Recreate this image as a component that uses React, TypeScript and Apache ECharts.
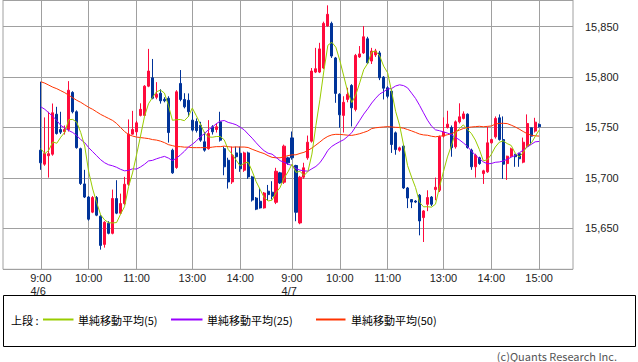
import React, { useEffect, useRef } from "react";
import * as echarts from "echarts";

// 5-minute bars, 4/6 9:00 .. 4/7 15:00 (index 0 = 4/6 9:00)
const opens = [
  15727.5, 15713.6, 15722, 15723.5, 15763.2, 15748, 15746, 15748, 15784.8, 15765.6,
  15729, 15694, 15681, 15666, 15680.5, 15662, 15634, 15655, 15645, 15679.5,
  15665, 15674.5, 15693.7, 15743.4, 15745.7, 15762, 15762, 15791, 15799.3, 15780,
  15784, 15778, 15779, 15727.5, 15710.3, 15793.7, 15777.8, 15777, 15757.3, 15756,
  15752.3, 15735.8, 15729, 15750.7, 15748, 15755.6, 15729, 15717.5, 15696, 15724.8,
  15724.4, 15707.6, 15724.8, 15701, 15680, 15676.8, 15670.2, 15686.8, 15685.8, 15675.8,
  15705, 15695.7, 15719.9,
  15739.7, 15712.3, 15655.3, 15700.7, 15719.9, 15736.4, 15805,
  15805, 15809, 15850.7, 15853.3, 15819, 15783, 15762, 15777.8, 15791.7, 15767.9,
  15820, 15824, 15838, 15815.9, 15822, 15824, 15800, 15789.4, 15786, 15744.7,
  15727.5, 15731.5, 15690, 15678.5, 15677, 15682.8, 15660.6, 15673.8, 15681, 15688.4,
  15687.7, 15741.4, 15750, 15750, 15730.8, 15755.6, 15759, 15763.2, 15727.5, 15711,
  15719.9, 15704.3, 15706, 15734.8, 15740.7, 15759.6, 15738, 15714.2, 15721.5, 15723,
  15724, 15715.6, 15731.5, 15749.7, 15746.4, 15753,
];
const closes = [
  15715, 15724.2, 15724, 15764.6, 15744, 15745.4, 15748, 15787, 15765.6, 15730,
  15694.4, 15681, 15659, 15680.5, 15663, 15633, 15656, 15645, 15679.5, 15665,
  15674.5, 15693.7, 15743.4, 15748, 15754.6, 15768, 15791, 15806, 15779, 15783,
  15776.5, 15776.5, 15745, 15705, 15785.4, 15777.8, 15770.5, 15765.6, 15747.4, 15747,
  15737.4, 15727.5, 15744, 15745.7, 15750.7, 15737.4, 15711, 15696, 15722.5, 15721,
  15709, 15724.8, 15701, 15678, 15669, 15670.2, 15685, 15683.4, 15681.8, 15706.6,
  15695, 15731.5, 15714.9,
  15719.9, 15665.9, 15700.7, 15710, 15735.4, 15806, 15808.3,
  15828, 15853.3, 15862.3, 15820.9, 15783.8, 15762.6, 15775, 15782.8, 15769.5, 15821.5,
  15823, 15840, 15814.2, 15825.8, 15826, 15799.3, 15789, 15781, 15733.1, 15728.1,
  15729.8, 15690, 15680, 15676, 15676, 15657.3, 15667.2, 15680.5, 15673.8, 15690.7,
  15740.7, 15745.5, 15753.3, 15730, 15755.6, 15760.6, 15763.5, 15730.1, 15711, 15722.5,
  15714.2, 15707, 15734.8, 15738, 15759, 15738, 15713.6, 15721.5, 15728.8, 15721,
  15719, 15735.4, 15754, 15741.4, 15755.3, 15750.7,
];
const lows = [
  15708, 15712, 15700.3, 15722, 15743, 15743.5, 15743, 15746, 15764, 15729,
  15693, 15680, 15657.6, 15665, 15662, 15628.8, 15630.8, 15644, 15644, 15664,
  15664, 15673, 15692, 15743, 15742, 15761, 15761, 15790, 15778, 15778,
  15773.7, 15775, 15735, 15704, 15709, 15776, 15769, 15760.6, 15746, 15745,
  15735.8, 15726, 15728, 15743, 15745, 15736, 15702.6, 15689.4, 15694, 15709,
  15706, 15706, 15699, 15676.5, 15668, 15669.5, 15669.5, 15678, 15678.5, 15674,
  15694, 15694, 15713,
  15718, 15657, 15654, 15699, 15718, 15735, 15804,
  15804, 15808, 15850, 15819, 15774.5, 15749.7, 15745, 15775, 15751, 15766,
  15819, 15823, 15813, 15813, 15820, 15797, 15777.8, 15779, 15724.8, 15723,
  15726, 15689, 15670, 15670, 15675, 15643, 15636.4, 15667, 15672, 15677.8,
  15686, 15740, 15749, 15721, 15729, 15754, 15758, 15729, 15708, 15700.3,
  15713, 15694, 15705, 15734, 15739, 15737, 15699, 15698, 15720, 15711,
  15711, 15714.5, 15730, 15733, 15745, 15750,
];
const highs = [
  15795.4, 15760, 15765.6, 15773.8, 15770.5, 15765.6, 15752, 15796, 15786, 15767,
  15730, 15708, 15682, 15682, 15682, 15663, 15657, 15657, 15688.4, 15697.7,
  15684.4, 15701, 15758, 15766.5, 15756.6, 15774, 15792, 15828, 15818, 15795,
  15788, 15780, 15781, 15729, 15787, 15807, 15784, 15783.8, 15765.6, 15759,
  15755.6, 15745.7, 15757.3, 15752.3, 15754, 15765.6, 15731, 15720, 15731, 15731,
  15731, 15726, 15726, 15702, 15681, 15690, 15686, 15693, 15696.7, 15710,
  15706, 15733, 15721,
  15746, 15713, 15702, 15715, 15742, 15809, 15829,
  15834, 15855, 15871.2, 15855, 15820, 15784, 15781, 15789.4, 15793, 15823,
  15830.8, 15850.7, 15840, 15829, 15828, 15826, 15801, 15791, 15788, 15746,
  15731, 15733, 15691, 15679, 15678, 15684, 15668, 15687.7, 15682, 15700.3,
  15742, 15760, 15766.6, 15752, 15757, 15774, 15766, 15764, 15729, 15724,
  15721, 15708, 15750.7, 15739, 15761, 15763, 15761, 15722, 15730, 15724,
  15725, 15740, 15763, 15750, 15759.6, 15754,
];

// moving-average values at the start of the window (they depend on bars before 4/6 9:00),
// read from the picture
const ma5Lead = [15729, 15724, 15727.5, 15735.7];
const ma25Lead = [
  15770.5, 15768, 15764.5, 15761, 15757, 15752, 15749.5, 15747, 15745, 15742,
  15738, 15735, 15730, 15726, 15722, 15718, 15715, 15713, 15712, 15710.5,
  15708.5, 15707, 15707.5, 15709,
];
const ma50Lead = [
  15795.4, 15794, 15792, 15790, 15788.5, 15786.5, 15784.5, 15782, 15779.5, 15777,
  15775, 15772.5, 15770, 15768, 15765.5, 15763, 15761, 15759, 15757, 15754,
  15750, 15746, 15743, 15741.5, 15740.5, 15740, 15739.5, 15739, 15738, 15737.5,
  15736.5, 15735, 15733, 15732, 15731, 15731, 15730.5, 15730.5, 15730, 15730,
  15730, 15730, 15730, 15730.5, 15731, 15731, 15731.5, 15731, 15730.5,
];

const tickBars = [0, 12, 24, 38, 50, 63, 75, 87, 101, 113, 125];
const tickLabels = ["9:00\n4/6\u2002", "10:00", "11:00", "13:00", "14:00", "9:00\n4/7\u2002", "10:00", "11:00", "13:00", "14:00", "15:00"];

const maNames = ["単純移動平均(5)", "単純移動平均(25)", "単純移動平均(50)"];
const maPeriods = [5, 25, 50];
const maColors = ["#99cc00", "#9900ff", "#ff3300"];

const FONT = "'Noto Sans CJK JP', 'Noto Sans', sans-serif";
const AXIS_FONT = "'Liberation Sans', Arial, sans-serif";

function sma(n: number, lead: number[]): number[] {
  return closes.map((_, i) => {
    if (i < n - 1) return lead[i];
    let s = 0;
    for (let k = i - n + 1; k <= i; k++) s += closes[k];
    return +(s / n).toFixed(2);
  });
}

export default function App() {
  const ref = useRef<HTMLDivElement>(null);
  useEffect(() => {
    if (!ref.current) return;
    const chart = echarts.init(ref.current, undefined, { renderer: "svg" });
    const PAD_L = 9;
    const PAD_R = 8;
    const n = closes.length;
    const N = PAD_L + n + PAD_R;
    const cats = Array.from({ length: N }, (_, k) => String(k));
    const pad = (arr: any[]) => [
      ...Array(PAD_L).fill("-"),
      ...arr,
      ...Array(PAD_R).fill("-"),
    ];
    const candle = pad(closes.map((c, i) => [opens[i], c, lows[i], highs[i]]));
    const tickMap = new Map<number, string>();
    tickBars.forEach((b, j) => tickMap.set(b + PAD_L, tickLabels[j]));
    const leads = [ma5Lead, ma25Lead, ma50Lead];
    const maSeries = [2, 1, 0].map((j) => ({
      type: "line",
      name: maNames[j],
      data: pad(sma(maPeriods[j], leads[j])),
      symbol: "none",
      silent: true,
      lineStyle: { color: maColors[j], width: 1 },
      z: 3 + (2 - j),
    }));

    const legendY = 319;
    const legendParts: any[] = [
      {
        type: "rect",
        shape: { x: 3.5, y: 295.5, width: 632, height: 51 },
        style: { fill: "none", stroke: "#000", lineWidth: 1 },
      },
      {
        type: "text",
        x: 11,
        y: legendY + 0.5,
        style: { text: "上段 :", font: `11px ${FONT}`, fill: "#000", verticalAlign: "middle" },
      },
    ];
    const legendPos = [
      [43, 73.5, 78],
      [171, 202.5, 207],
      [316, 345.5, 351],
    ];
    legendPos.forEach((p, j) => {
      legendParts.push({
        type: "rect",
        shape: { x: p[0], y: legendY - 0.5, width: p[1] - p[0], height: 2 },
        style: { fill: maColors[j], stroke: "none" },
        z: 10,
      });
      legendParts.push({
        type: "text",
        x: p[2],
        y: legendY + 0.5,
        style: { text: maNames[j], font: `11px ${FONT}`, fill: "#000", verticalAlign: "middle" },
      });
    });
    legendParts.push({
      type: "text",
      x: 617,
      y: 355.5,
      style: {
        text: "(c)Quants Research Inc.",
        font: `11px ${FONT}`,
        fill: "#555",
        align: "right",
        verticalAlign: "middle",
      },
    });

    chart.setOption({
      animation: false,
      grid: {
        left: 3,
        top: 0,
        width: 570,
        height: 269.3,
        show: true,
        borderColor: "#a0a0a0",
        borderWidth: 1,
        backgroundColor: "transparent",
      },
      xAxis: {
        type: "category",
        data: cats,
        boundaryGap: true,
        axisLine: { show: false },
        axisTick: { show: false },
        axisLabel: {
          interval: (i: number) => tickMap.has(i),
          formatter: (_v: string, i: number) => tickMap.get(i) ?? "",
          fontSize: 11,
          fontFamily: AXIS_FONT,
          color: "#222",
          margin: 1.5,
          lineHeight: 13.5,
        },
        splitLine: {
          show: true,
          interval: (i: number) => tickMap.has(i),
          alignWithLabel: true,
          lineStyle: { color: "#a0a0a0", width: 1 },
        },
      },
      yAxis: {
        type: "value",
        position: "right",
        min: 15609.3,
        max: 15876.5,
        splitNumber: 5,
        axisLine: { show: false },
        axisTick: { show: false },
        axisLabel: {
          margin: 12,
          showMinLabel: false,
          showMaxLabel: false,
          fontSize: 11,
          fontFamily: AXIS_FONT,
          color: "#222",
          formatter: (v: number) => (v % 50 === 0 ? v.toLocaleString("en-US") : ""),
        },
        splitLine: { lineStyle: { color: "#a0a0a0", width: 1 } },
      },
      series: [
        {
          type: "candlestick",
          data: candle,
          barWidth: 2.6,
          silent: true,
          z: 2,
          itemStyle: {
            color: "#ff0a3c",
            color0: "#003399",
            borderColor: "#ff0a3c",
            borderColor0: "#003399",
            borderWidth: 1,
          },
        },
        ...maSeries,
      ],
      graphic: legendParts,
    });
    return () => chart.dispose();
  }, []);
  return (
    <div
      ref={ref}
      style={{ position: "absolute", left: 0, top: 0, width: 638, height: 362, background: "#fff" }}
    />
  );
}
